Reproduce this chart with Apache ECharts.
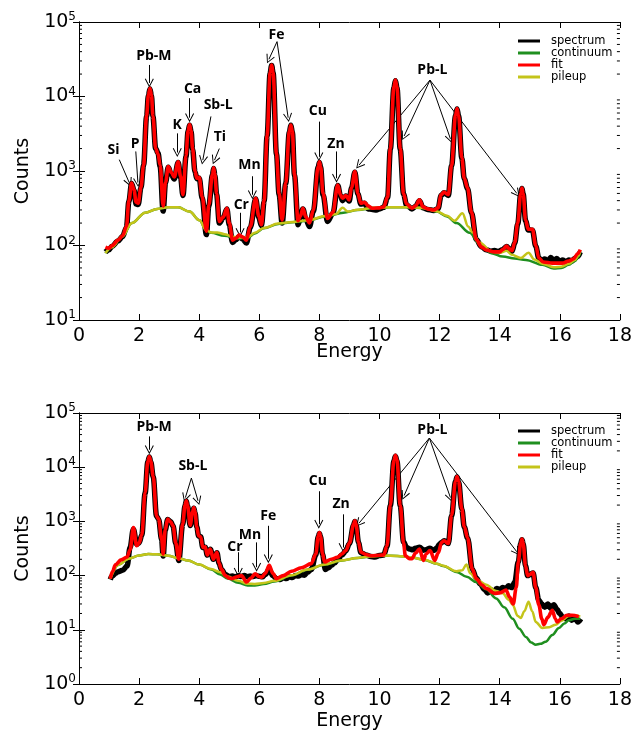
<!DOCTYPE html>
<html>
<head>
<meta charset="utf-8">
<script src="https://cdn.jsdelivr.net/npm/echarts@6/dist/echarts.min.js"></script>
<style>html,body{margin:0;padding:0;background:#fff}#main{width:635px;height:732px}</style>
</head>
<body>
<div id="main"></div>
<script>
const seriesNames = ['spectrum', 'continuum', 'fit', 'pileup'];
const seriesColors = ['#000000', '#1f8f1f', '#ff0000', '#c4c41a'];

// upper panel: [energy keV, counts]
const topSpectrum = [[0.88,82],[1.0,88],[1.1,98],[1.3,115],[1.45,132],[1.58,175],[1.66,390],[1.75,680],[1.83,550],[1.9,360],[1.97,355],[2.06,590],[2.15,1200],[2.25,5400],[2.31,10300],[2.36,12600],[2.41,10300],[2.46,5400],[2.55,2000],[2.63,1750],[2.7,1150],[2.8,290],[2.88,700],[2.97,1120],[3.07,900],[3.17,780],[3.3,1300],[3.38,820],[3.46,470],[3.56,1550],[3.63,3400],[3.68,4100],[3.73,3400],[3.78,1950],[3.86,980],[3.92,790],[4.0,800],[4.1,430],[4.24,140],[4.32,340],[4.44,880],[4.48,1080],[4.52,880],[4.58,480],[4.67,200],[4.8,235],[4.92,310],[5.0,190],[5.11,110],[5.22,120],[5.33,132],[5.45,122],[5.57,108],[5.7,175],[5.88,420],[5.98,240],[6.07,185],[6.16,390],[6.26,2950],[6.36,20500],[6.41,26000],[6.46,20500],[6.57,1700],[6.66,480],[6.76,200],[6.88,680],[7.0,3300],[7.05,4100],[7.1,3300],[7.17,880],[7.29,190],[7.37,240],[7.45,310],[7.55,225],[7.67,180],[7.8,290],[7.96,1120],[8.0,1300],[8.04,1120],[8.12,480],[8.27,210],[8.45,270],[8.61,640],[8.7,470],[8.77,400],[8.88,460],[8.99,395],[9.07,590],[9.18,960],[9.28,490],[9.38,360],[9.5,370],[9.62,310],[9.76,305],[9.9,300],[10.0,310],[10.14,325],[10.27,440],[10.36,1950],[10.48,13200],[10.53,16300],[10.58,13200],[10.69,1950],[10.8,490],[10.9,350],[11.08,310],[11.2,335],[11.33,400],[11.45,320],[11.6,305],[11.8,295],[11.95,315],[12.05,470],[12.15,510],[12.29,470],[12.4,1180],[12.53,5500],[12.58,6800],[12.63,5500],[12.74,1480],[12.82,790],[12.93,580],[13.06,275],[13.22,120],[13.4,96],[13.55,88],[13.7,84],[13.82,86],[13.95,83],[14.1,88],[14.23,97],[14.32,90],[14.41,84],[14.5,108],[14.6,195],[14.7,490],[14.74,580],[14.78,490],[14.86,215],[14.95,162],[15.09,160],[15.2,98],[15.3,68],[15.4,63],[15.5,66],[15.6,61],[15.7,69],[15.8,63],[15.9,67],[16.0,61],[16.1,64],[16.2,60],[16.3,64],[16.4,62],[16.5,67],[16.6,72],[16.68,82]];
const topFit = [[0.88,95],[1.0,92],[1.1,100],[1.3,118],[1.45,135],[1.58,180],[1.66,400],[1.75,690],[1.83,560],[1.9,380],[1.97,370],[2.06,600],[2.15,1200],[2.25,5500],[2.31,10500],[2.36,12900],[2.41,10500],[2.46,5500],[2.55,2000],[2.63,1700],[2.7,1200],[2.8,340],[2.88,700],[2.97,1150],[3.07,950],[3.17,830],[3.3,1330],[3.38,850],[3.46,480],[3.56,1600],[3.63,3500],[3.68,4200],[3.73,3500],[3.78,2000],[3.86,1000],[3.92,800],[4.0,820],[4.1,450],[4.24,155],[4.32,350],[4.44,900],[4.48,1100],[4.52,900],[4.58,500],[4.67,210],[4.8,240],[4.92,316],[5.0,200],[5.11,118],[5.22,125],[5.33,138],[5.45,130],[5.57,118],[5.7,180],[5.88,430],[5.98,250],[6.07,190],[6.16,400],[6.26,3000],[6.36,21000],[6.41,26500],[6.46,21000],[6.57,1700],[6.66,500],[6.76,220],[6.88,700],[7.0,3400],[7.05,4150],[7.1,3400],[7.17,900],[7.29,215],[7.37,250],[7.45,316],[7.55,240],[7.67,200],[7.8,300],[7.96,1150],[8.0,1330],[8.04,1150],[8.12,500],[8.27,230],[8.45,280],[8.61,650],[8.7,480],[8.77,430],[8.88,470],[8.99,410],[9.07,600],[9.18,980],[9.28,500],[9.38,370],[9.5,380],[9.62,340],[9.76,316],[10.0,320],[10.14,330],[10.27,450],[10.36,2000],[10.48,13500],[10.53,16600],[10.58,13500],[10.69,2000],[10.8,500],[10.9,360],[11.08,316],[11.2,340],[11.33,410],[11.45,330],[11.6,310],[11.8,300],[11.95,320],[12.05,480],[12.15,520],[12.29,480],[12.4,1200],[12.53,5600],[12.58,6900],[12.63,5600],[12.74,1500],[12.82,800],[12.93,590],[13.06,280],[13.22,120],[13.4,95],[13.55,87],[13.82,82],[14.0,82],[14.1,88],[14.23,98],[14.32,90],[14.41,85],[14.5,110],[14.6,200],[14.7,500],[14.74,590],[14.78,500],[14.86,220],[14.95,165],[15.09,165],[15.2,100],[15.3,68],[15.45,60],[15.75,58],[16.08,58],[16.3,62],[16.45,66],[16.6,78],[16.68,88]];
const topContinuum = [[0.88,79],[1.1,95],[1.43,131],[1.76,200],[2.2,275],[2.6,310],[2.97,325],[3.3,325],[3.68,285],[4.01,218],[4.23,161],[4.4,148],[4.84,135],[5.28,124],[5.6,126],[5.85,145],[6.15,170],[6.63,195],[7.1,205],[7.6,215],[8.2,245],[8.8,275],[9.27,300],[9.8,318],[10.36,325],[11.0,325],[11.46,316],[11.9,285],[12.25,245],[12.56,200],[13.0,148],[13.33,105],[13.72,79],[14.1,71],[14.5,67],[14.87,64],[15.42,55],[15.8,49],[16.05,50],[16.3,55],[16.5,62],[16.63,71],[16.68,83]];
const topPileup = [[0.88,79],[1.1,95],[1.43,131],[1.76,200],[2.2,275],[2.6,310],[2.97,325],[3.3,325],[3.68,285],[4.01,218],[4.23,161],[4.4,150],[4.6,150],[4.84,142],[5.1,132],[5.28,128],[5.6,128],[5.85,148],[6.15,172],[6.63,197],[7.1,207],[7.6,218],[8.2,248],[8.55,265],[8.77,320],[8.95,285],[9.27,302],[9.8,320],[10.36,327],[11.0,327],[11.46,318],[11.9,288],[12.25,250],[12.5,215],[12.76,270],[12.95,180],[13.1,150],[13.33,110],[13.72,84],[14.0,80],[14.23,85],[14.4,75],[14.7,68],[14.96,80],[15.15,65],[15.42,57],[15.8,51],[16.05,52],[16.3,57],[16.5,64],[16.63,74],[16.68,86]];
const topLabels = [['Si',1.15,1900],['P',1.87,2300],['Pb-M',2.49,35000],['K',3.27,4200],['Ca',3.78,12600],['Sb-L',4.63,7700],['Ti',4.69,2900],['Cr',5.4,350],['Mn',5.67,1200],['Fe',6.57,67000],['Cu',7.95,6300],['Zn',8.55,2300],['Pb-L',11.76,22900]];
const topArrows = [[1.34,1420,1.67,700],[1.89,1830,1.96,700],[2.34,26500,2.34,15200],[3.27,3200,3.27,1770],[3.68,9500,3.68,5200],[4.39,5400,4.12,1400],[4.67,2000,4.51,1400],[5.36,275,5.36,150],[5.77,850,5.77,480],[6.59,54500,6.32,31600],[6.59,54500,6.96,5200],[7.98,4600,7.98,1550],[8.57,1830,8.57,800],[11.68,16600,9.32,1200],[11.68,16600,10.82,2950],[11.68,16600,12.36,2700],[11.68,16600,14.57,500]];

// lower panel
const bottomSpectrum = [[1.04,85],[1.12,100],[1.21,110],[1.3,118],[1.45,125],[1.6,150],[1.7,330],[1.81,720],[1.92,380],[2.0,400],[2.09,560],[2.2,3300],[2.29,12500],[2.34,15500],[2.39,12500],[2.47,6600],[2.58,1250],[2.65,1100],[2.75,460],[2.8,230],[2.87,690],[2.95,1080],[3.05,990],[3.13,820],[3.22,390],[3.32,190],[3.45,880],[3.53,1950],[3.57,2350],[3.61,1950],[3.7,840],[3.78,1450],[3.82,1750],[3.86,1450],[3.92,790],[3.98,540],[4.05,520],[4.12,330],[4.2,335],[4.27,240],[4.37,305],[4.47,200],[4.59,265],[4.66,170],[4.74,130],[4.87,105],[5.0,95],[5.1,98],[5.2,94],[5.3,99],[5.4,96],[5.5,100],[5.6,95],[5.7,98],[5.8,96],[5.9,100],[6.0,97],[6.1,95],[6.2,105],[6.33,130],[6.45,100],[6.57,88],[6.7,85],[6.8,92],[6.9,88],[7.0,95],[7.1,92],[7.2,100],[7.3,98],[7.4,105],[7.5,102],[7.6,115],[7.73,130],[7.88,240],[7.96,520],[8.0,600],[8.04,520],[8.1,250],[8.2,130],[8.3,140],[8.4,155],[8.5,170],[8.6,195],[8.75,240],[8.88,285],[9.0,390],[9.14,860],[9.18,1000],[9.22,860],[9.3,410],[9.38,265],[9.55,240],[9.71,225],[9.85,220],[10.0,235],[10.14,240],[10.25,345],[10.36,1950],[10.48,13000],[10.53,16000],[10.58,13000],[10.69,1950],[10.8,420],[10.9,330],[11.0,310],[11.1,300],[11.2,320],[11.33,335],[11.46,295],[11.55,300],[11.68,320],[11.8,290],[11.9,320],[12.0,380],[12.07,410],[12.15,440],[12.29,390],[12.4,1280],[12.53,5400],[12.58,6600],[12.63,5400],[12.74,1680],[12.82,790],[12.93,495],[13.09,130],[13.22,90],[13.35,70],[13.5,55],[13.6,48],[13.7,55],[13.8,50],[13.9,58],[14.0,55],[14.1,60],[14.2,58],[14.3,65],[14.4,60],[14.5,75],[14.62,180],[14.7,390],[14.74,460],[14.78,390],[14.86,150],[14.93,100],[15.0,105],[15.11,112],[15.2,60],[15.3,35],[15.4,30],[15.5,26],[15.6,30],[15.7,25],[15.8,29],[15.9,24],[16.0,20],[16.1,17],[16.2,16],[16.3,18],[16.4,15],[16.5,17],[16.6,14],[16.7,16]];
const bottomFit = [[1.04,88],[1.12,120],[1.21,159],[1.4,195],[1.6,220],[1.7,300],[1.81,770],[1.92,355],[2.0,400],[2.09,560],[2.2,3400],[2.29,12800],[2.34,15800],[2.39,12800],[2.47,6800],[2.58,1260],[2.65,1100],[2.75,470],[2.8,250],[2.87,700],[2.95,1100],[3.05,980],[3.13,830],[3.22,400],[3.32,200],[3.45,900],[3.53,2000],[3.57,2400],[3.61,2000],[3.7,850],[3.78,1500],[3.82,1800],[3.86,1500],[3.92,800],[3.98,540],[4.05,520],[4.12,330],[4.2,340],[4.27,240],[4.37,310],[4.47,200],[4.59,270],[4.66,170],[4.74,130],[4.87,100],[5.0,90],[5.09,88],[5.27,95],[5.4,100],[5.58,76],[5.72,90],[5.86,108],[6.0,95],[6.08,93],[6.2,110],[6.33,155],[6.45,110],[6.57,88],[6.8,100],[7.07,120],[7.4,140],[7.73,166],[7.88,250],[7.96,530],[8.0,620],[8.04,530],[8.1,260],[8.17,178],[8.4,200],[8.6,218],[8.75,250],[8.88,290],[9.0,400],[9.14,880],[9.18,1030],[9.22,880],[9.3,420],[9.38,270],[9.55,245],[9.71,233],[10.0,238],[10.14,240],[10.25,350],[10.36,2000],[10.48,13500],[10.53,16500],[10.58,13500],[10.69,2000],[10.8,400],[10.86,233],[11.0,205],[11.08,205],[11.2,260],[11.33,310],[11.46,190],[11.55,250],[11.68,290],[11.84,190],[11.95,260],[12.07,410],[12.15,440],[12.29,390],[12.4,1300],[12.53,5500],[12.58,6700],[12.63,5500],[12.74,1700],[12.82,800],[12.93,500],[13.09,130],[13.22,88],[13.4,68],[13.55,58],[13.82,47],[14.0,48],[14.21,54],[14.33,40],[14.45,30],[14.55,60],[14.62,180],[14.7,400],[14.74,470],[14.78,400],[14.86,150],[14.93,100],[15.0,105],[15.11,115],[15.2,60],[15.3,29],[15.4,16],[15.47,12.4],[15.6,17],[15.75,23],[15.85,16],[15.91,14],[16.05,16],[16.24,18.6],[16.4,18.5],[16.63,17.5]];
const bottomContinuum = [[1.04,88],[1.32,159],[1.65,205],[2.0,235],[2.31,250],[2.6,248],[2.97,233],[3.3,210],[3.63,190],[4.0,160],[4.4,130],[4.7,105],[4.95,88],[5.3,74],[5.61,66],[5.85,66],[6.15,70],[6.5,78],[7.07,100],[7.6,128],[8.17,159],[8.7,188],[9.27,211],[9.7,226],[10.14,233],[10.6,230],[11.02,218],[11.5,195],[11.9,165],[12.12,150],[12.56,117],[12.9,95],[13.22,76],[13.55,56],[13.88,38],[14.15,26],[14.43,16],[14.65,10.5],[14.87,7.4],[15.05,5.8],[15.2,5.3],[15.35,5.5],[15.53,6.0],[15.75,8],[15.97,10.8],[16.15,13],[16.3,15],[16.5,16],[16.68,16]];
const bottomPileup = [[1.04,88],[1.32,159],[1.65,205],[2.0,235],[2.31,250],[2.6,248],[2.97,233],[3.3,210],[3.63,190],[4.0,160],[4.4,132],[4.7,115],[4.95,96],[5.3,80],[5.61,71],[5.85,70],[6.15,73],[6.5,80],[7.07,101],[7.6,129],[8.17,160],[8.7,189],[9.27,212],[9.7,227],[10.14,234],[10.6,231],[11.02,219],[11.5,196],[11.9,166],[12.12,152],[12.56,120],[12.75,125],[12.89,160],[13.02,110],[13.22,85],[13.55,68],[13.88,52],[14.1,47],[14.3,36],[14.43,29],[14.6,18],[14.7,16.5],[14.82,22],[14.96,33],[15.08,22],[15.2,14],[15.42,10.8],[15.65,11.2],[15.86,12.4],[16.05,14.5],[16.3,18],[16.5,18.5],[16.68,17.5]];
const bottomLabels = [['Pb-M',2.5,55000],['Sb-L',3.79,10500],['Cr',5.19,330],['Mn',5.69,560],['Fe',6.3,1260],['Cu',7.95,5500],['Zn',8.72,2050],['Pb-L',11.76,49000]];
const bottomArrows = [[2.34,37000,2.34,21000],[3.74,6300,3.54,2750],[3.74,6300,3.96,2400],[5.3,270,5.3,115],[5.91,410,5.91,143],[6.3,830,6.3,205],[7.98,3600,7.98,890],[8.79,1350,8.79,330],[11.66,34500,9.32,930],[11.66,34500,10.82,3000],[11.66,34500,12.36,2750],[11.66,34500,14.57,275]];

// log-axis minor ticks (2..9 within each decade)
const minorSteps = [2, 3, 4, 5, 6, 7, 8, 9];
const topDecades = [10, 100, 1000, 10000];
const bottomDecades = [1, 10, 100, 1000, 10000];

const chart = echarts.init(document.getElementById('main'));
const FONT = 'DejaVu Sans';
const arrowHead = 'path://M0,10 L5,0 L10,10 L9,10.6 L5,2.2 L1,10.6 Z';

function xAxes(grid, gap) {
	return [{
		type: 'value', gridIndex: grid, position: 'bottom', min: 0, max: 18, interval: 2,
		name: 'Energy', nameLocation: 'middle', nameGap: gap, nameMoveOverlap: false,
		nameTextStyle: {fontFamily: FONT, fontSize: 19, color: '#000'},
		axisLine: {lineStyle: {color: '#000', width: 1}},
		axisTick: {inside: true, length: 6, lineStyle: {color: '#000'}},
		axisLabel: {fontFamily: FONT, fontSize: 19, color: '#000', margin: 7},
		splitLine: {show: false}
	}, {
		type: 'value', gridIndex: grid, position: 'top', min: 0, max: 18, interval: 2,
		axisLine: {lineStyle: {color: '#000', width: 1}},
		axisTick: {inside: true, length: 6, lineStyle: {color: '#000'}},
		axisLabel: {show: false}, splitLine: {show: false}
	}];
}

function yAxes(grid, min) {
	const tickStyle = {inside: true, length: 6, lineStyle: {color: '#000'}};
	return [{
		type: 'log', gridIndex: grid, position: 'left', min: min, max: 100000, logBase: 10,
		name: 'Counts', nameLocation: 'middle', nameGap: 46, nameMoveOverlap: false,
		nameTextStyle: {fontFamily: FONT, fontSize: 19, color: '#000'},
		axisLine: {show: true, lineStyle: {color: '#000', width: 1}},
		axisTick: tickStyle,
		axisLabel: {
			margin: 3, showMinLabel: true, showMaxLabel: true,
			formatter: (v) => '{b|10}{s|' + Math.round(Math.log10(v)) + '}',
			rich: {
				b: {fontFamily: FONT, fontSize: 19, color: '#000'},
				s: {fontFamily: FONT, fontSize: 12, color: '#000', padding: [0, 0, 10, 0]}
			}
		},
		splitLine: {show: false}
	}, {
		type: 'log', gridIndex: grid, position: 'right', min: min, max: 100000, logBase: 10,
		axisLine: {show: true, lineStyle: {color: '#000', width: 1}},
		axisTick: tickStyle,
		axisLabel: {show: false}, splitLine: {show: false}
	}];
}

function minorTickSeries(ax, decades) {
	const data = [];
	decades.forEach(d => minorSteps.forEach(m => data.push([0, m * d])));
	return {
		type: 'custom', xAxisIndex: ax, yAxisIndex: ax, data: data, silent: true, z: 1,
		renderItem: (params, api) => {
			const v = api.value(1);
			const l = api.coord([0, v]);
			const r = api.coord([18, v]);
			const st = {stroke: '#000', lineWidth: 1};
			return {type: 'group', children: [
				{type: 'line', shape: {x1: l[0], y1: l[1], x2: l[0] + 3, y2: l[1]}, style: st},
				{type: 'line', shape: {x1: r[0] - 3, y1: r[1], x2: r[0], y2: r[1]}, style: st}
			]};
		}
	};
}

function panelSeries(ax, sets, labels, arrows) {
	const widths = [5.5, 2.5, 3.6, 2.5];
	const zs = [2, 3, 5, 4];
	const out = sets.map((d, i) => ({
		type: 'line', name: seriesNames[i], xAxisIndex: ax, yAxisIndex: ax, data: d,
		showSymbol: false, symbol: 'none', smooth: 0.35, smoothMonotone: 'x', silent: true, z: zs[i],
		lineStyle: {color: seriesColors[i], width: widths[i]},
		itemStyle: {color: seriesColors[i]}
	}));
	out.push({
		type: 'line', name: 'notes', xAxisIndex: ax, yAxisIndex: ax, data: [], silent: true, z: 6,
		markLine: {
			silent: true, symbol: ['none', arrowHead], symbolSize: 9, animation: false,
			label: {show: false},
			lineStyle: {color: '#000', width: 1, type: 'solid'},
			emphasis: {disabled: true},
			data: arrows.map(a => [{coord: [a[0], a[1]]}, {coord: [a[2], a[3]]}])
		},
		markPoint: {
			silent: true, symbol: 'circle', symbolSize: 0, animation: false,
			label: {show: true, position: 'inside', formatter: '{b}', color: '#000',
				fontFamily: 'Open Sans', fontWeight: 'bold', fontSize: 14},
			data: labels.map(l => ({name: l[0], coord: [l[1], l[2]]}))
		}
	});
	return out;
}

function legendAt(top) {
	return {
		data: seriesNames, orient: 'vertical', left: 513, top: top,
		itemWidth: 22, itemHeight: 3, itemGap: 0, icon: 'rect', selectedMode: false,
		itemStyle: {borderWidth: 0},
		lineStyle: {width: 3},
		textStyle: {fontFamily: FONT, fontSize: 11.5, color: '#000', lineHeight: 12, padding: [0, 0, 0, 6]}
	};
}

const option = {
	animation: false,
	backgroundColor: '#fff',
	grid: [
		{left: 79, top: 22, width: 546, height: 298},
		{left: 79, top: 413, width: 546, height: 273}
	],
	legend: [legendAt(30), legendAt(420)],
	xAxis: [...xAxes(0, 23), ...xAxes(1, 28)],
	yAxis: [...yAxes(0, 10), ...yAxes(1, 1)],
	series: [
		minorTickSeries(0, topDecades),
		minorTickSeries(2, bottomDecades),
		...panelSeries(0, [topSpectrum, topContinuum, topFit, topPileup], topLabels, topArrows),
		...panelSeries(2, [bottomSpectrum, bottomContinuum, bottomFit, bottomPileup], bottomLabels, bottomArrows)
	]
};
chart.setOption(option);
</script>
</body>
</html>
